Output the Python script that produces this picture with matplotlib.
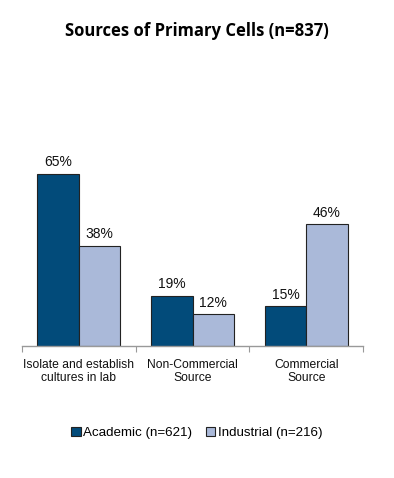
import matplotlib
matplotlib.use('Agg')
import matplotlib.pyplot as plt
import numpy as np

categories = ['Isolate and establish\ncultures in lab', 'Non-Commercial\nSource', 'Commercial\nSource']
academic = [65, 19, 15]
industrial = [38, 12, 46]
series_names = ['Academic (n=621)', 'Industrial (n=216)']
title = 'Sources of Primary Cells (n=837)'

plt.rcParams['font.family'] = ['Liberation Sans', 'DejaVu Sans']

fig = plt.figure(figsize=(3.94, 4.78), dpi=100)
ax = fig.add_axes([22 / 394, 132 / 478, 341 / 394, 185 / 478])

x = np.arange(len(categories))
w = 0.365
dark = '#024B7A'
light = '#AAB9D9'
b1 = ax.bar(x - w / 2, academic, w, color=dark, edgecolor='#222222', linewidth=0.8, label=series_names[0])
b2 = ax.bar(x + w / 2, industrial, w, color=light, edgecolor='#222222', linewidth=0.8, label=series_names[1])

for bars, vals in ((b1, academic), (b2, industrial)):
    for b, v in zip(bars, vals):
        ax.text(b.get_x() + b.get_width() / 2, v + 1.8, '%d%%' % v,
                ha='center', va='bottom', fontsize=10, color='#111111')

ax.set_xlim(-0.5, 2.5)
ax.set_ylim(0, 70)
ax.set_yticks([])
for s in ('top', 'right', 'left'):
    ax.spines[s].set_visible(False)
ax.spines['bottom'].set_color('#999999')
ax.spines['bottom'].set_linewidth(1)

ax.set_xticks([-0.5, 0.5, 1.5, 2.5], minor=False)
ax.set_xticklabels([])
ax.tick_params(axis='x', which='major', length=4, color='#999999', direction='out')
ax.set_xticks(x, minor=True)
ax.set_xticklabels(categories, minor=True, fontsize=8.7, color='#111111', linespacing=1.2)
ax.tick_params(axis='x', which='minor', length=0, pad=9)

fig.text(0.5, 1 - 31 / 478, title, ha='center', va='center', fontsize=12,
         fontweight='bold', family=['Open Sans', 'DejaVu Sans'])

fig.legend(handles=[b1, b2], labels=series_names, loc='center', bbox_to_anchor=(0.5, 1 - 433 / 478),
           ncol=2, frameon=False, fontsize=9.6, handlelength=0.7, handleheight=0.7,
           handletextpad=0.2, columnspacing=1.0)

fig.savefig('out.png', dpi=100)
